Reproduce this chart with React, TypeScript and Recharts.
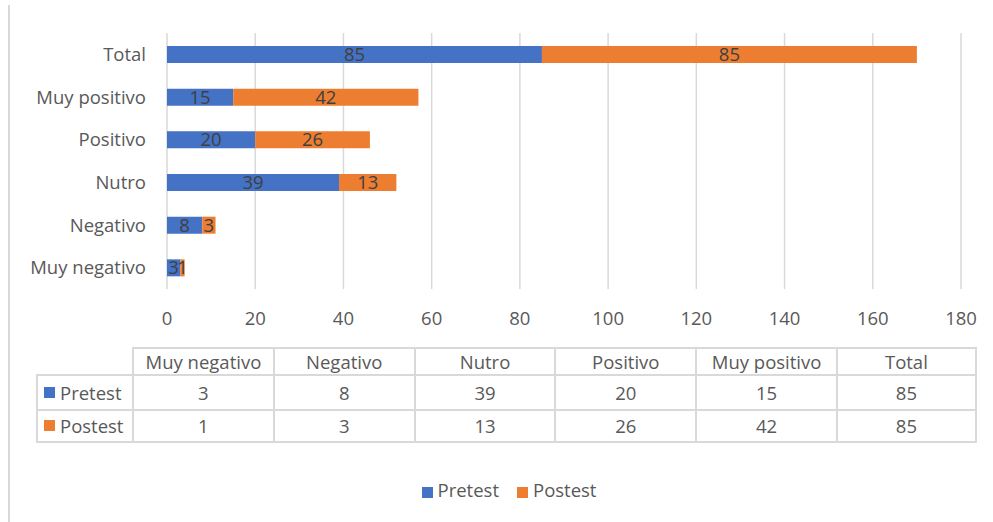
import React from 'react';
import { BarChart, Bar, XAxis, YAxis, CartesianGrid, LabelList, Legend } from 'recharts';

const categories = ['Muy negativo', 'Negativo', 'Nutro', 'Positivo', 'Muy positivo', 'Total'];
const pretest = [3, 8, 39, 20, 15, 85];
const postest = [1, 3, 13, 26, 42, 85];
const xTicks = [0, 20, 40, 60, 80, 100, 120, 140, 160, 180];
const seriesNames = ['Pretest', 'Postest'];
const seriesValues = [pretest, postest];
const seriesColors = ['#4472C4', '#ED7D31'];

const data = categories.map((c, i) => ({ name: c, Pretest: pretest[i], Postest: postest[i] }));

const FONT = "'Open Sans', 'Noto Sans', sans-serif";
const TEXT = '#595959';
const GRID = '#d9d9d9';
const FS = 18.5;

// table layout
const TABLE_LEFT = 36;
const LABEL_COL_W = 96;
const COL_W = 140.8;
const HEADER_TOP = 347;
const HEADER_H = 27;
const ROW_H = 34.5;

function DataTable() {
  const cells: React.ReactNode[] = [];
  const border = `2px solid ${GRID}`;
  const x0 = TABLE_LEFT + LABEL_COL_W;
  categories.forEach((c, j) => {
    cells.push(
      <div key={'h' + j} style={{ position: 'absolute', left: x0 + j * COL_W, top: HEADER_TOP, width: COL_W, height: HEADER_H, boxSizing: 'border-box', borderLeft: border, borderTop: border, borderRight: j === categories.length - 1 ? border : undefined, display: 'flex', alignItems: 'center', justifyContent: 'center', color: TEXT, fontSize: FS, whiteSpace: 'nowrap' }}>{c}</div>
    );
  });
  seriesNames.forEach((s, r) => {
    const top = HEADER_TOP + HEADER_H + r * ROW_H;
    const last = r === seriesNames.length - 1;
    cells.push(
      <div key={'l' + r} style={{ position: 'absolute', left: TABLE_LEFT, top, width: LABEL_COL_W, height: ROW_H, boxSizing: 'border-box', borderLeft: border, borderTop: border, borderBottom: last ? border : undefined, display: 'flex', alignItems: 'center', paddingLeft: 6, color: TEXT, fontSize: FS, whiteSpace: 'nowrap' }}>
        <span style={{ display: 'inline-block', width: 11, height: 11, background: seriesColors[r], marginRight: 5 }} />{s}
      </div>
    );
    categories.forEach((c, j) => {
      cells.push(
        <div key={'c' + r + '-' + j} style={{ position: 'absolute', left: x0 + j * COL_W, top, width: COL_W, height: ROW_H, boxSizing: 'border-box', borderLeft: border, borderTop: border, borderRight: j === categories.length - 1 ? border : undefined, borderBottom: last ? border : undefined, display: 'flex', alignItems: 'center', justifyContent: 'center', color: TEXT, fontSize: FS }}>{seriesValues[r][j]}</div>
      );
    });
  });
  return <>{cells}</>;
}

export default function App() {
  return (
    <div style={{ position: 'absolute', left: 0, top: 0, width: 993, height: 522, background: '#fff', fontFamily: FONT, overflow: 'hidden' }}>
      <div style={{ position: 'absolute', left: 8, top: 5, width: 2, height: 517, background: GRID }} />
      <BarChart
        width={993}
        height={522}
        data={data}
        layout="vertical"
        margin={{ top: 33, right: 32, bottom: 203, left: 0 }}
        barSize={17}
        style={{ position: 'absolute', left: 0, top: 0, fontFamily: FONT }}
      >
        <CartesianGrid horizontal={false} vertical={true} stroke={GRID} strokeWidth={1.5} />
        <XAxis
          type="number"
          domain={[0, 180]}
          ticks={xTicks}
          axisLine={false}
          tickLine={false}
          tickMargin={17}
          height={30}
          tick={{ fill: TEXT, fontSize: FS }}
          interval={0}
        />
        <YAxis
          type="category"
          dataKey="name"
          reversed
          width={167}
          axisLine={false}
          tickLine={false}
          tickMargin={15}
          tick={{ fill: TEXT, fontSize: FS }}
          interval={0}
        />
        <Legend
          layout="horizontal"
          verticalAlign="middle"
          align="center"
          iconType="square"
          iconSize={11}
          itemSorter={(item: any) => seriesNames.indexOf(item.value)}
          wrapperStyle={{ top: 477, left: 38, width: 960, fontSize: FS }}
          formatter={(v: string) => <span style={{ color: TEXT, paddingLeft: 1, paddingRight: 8 }}>{v}</span>}
        />
        {seriesNames.map((s, i) => (
          <Bar key={s} dataKey={s} stackId="a" fill={seriesColors[i]} isAnimationActive={false}>
            <LabelList dataKey={s} position="center" fill="#404040" fontSize={FS} />
          </Bar>
        ))}
      </BarChart>
      <DataTable />
    </div>
  );
}
